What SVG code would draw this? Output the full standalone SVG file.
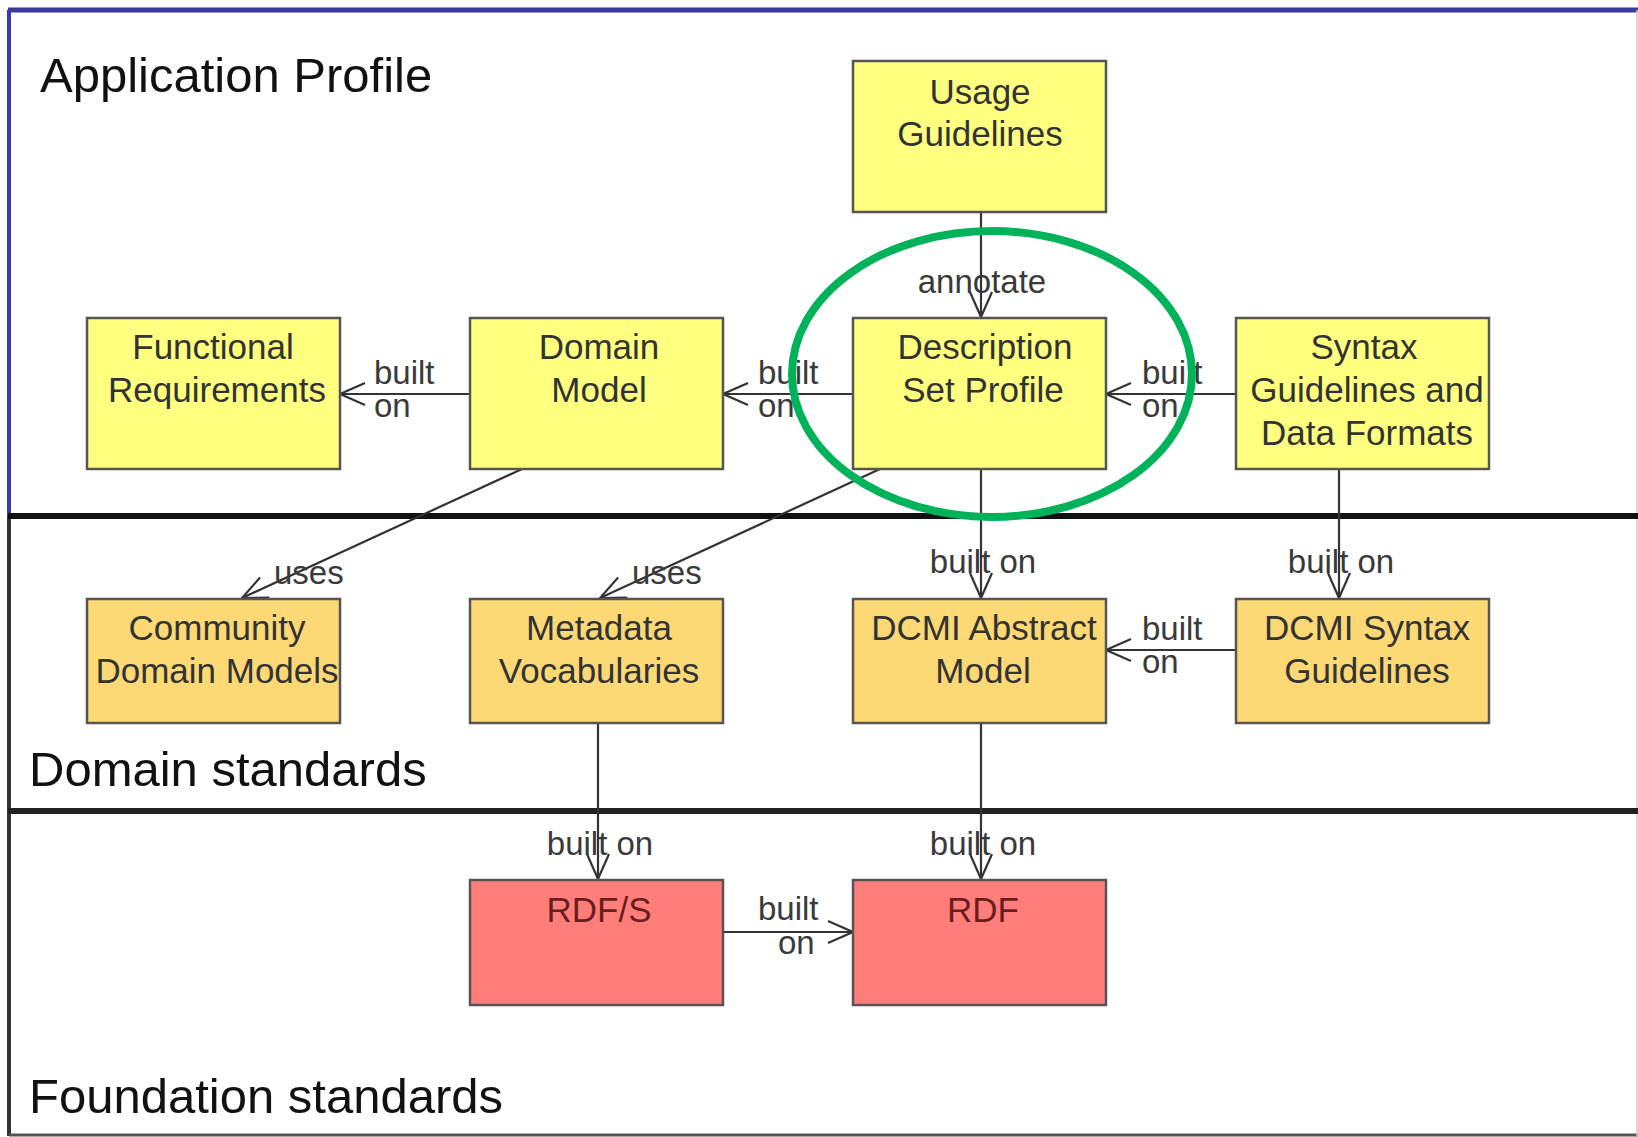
<svg xmlns="http://www.w3.org/2000/svg" width="1638" height="1137" viewBox="0 0 1638 1137">
<style>
.box{stroke:#555;stroke-width:2.5}
.y{fill:#ffff80}
.o{fill:#fdd976}
.r{fill:#ff7e7a}
.t{font-family:"Liberation Sans",Arial,sans-serif;font-size:35px;fill:#333;text-anchor:middle}
.tr{font-family:"Liberation Sans",Arial,sans-serif;font-size:35px;fill:#6a1d1d;text-anchor:middle}
.lbl{font-family:"Liberation Sans",Arial,sans-serif;font-size:33px;fill:#3a3a3a}
.lc{text-anchor:middle}
.sec{font-family:"Liberation Sans",Arial,sans-serif;font-size:49px;fill:#111}
.c{stroke:#333;stroke-width:2.2;fill:none}
</style>
<defs>
<marker id="arr" markerUnits="userSpaceOnUse" markerWidth="40" markerHeight="30" viewBox="-30 -15 34 30" refX="0" refY="0" orient="auto">
<path d="M-25,-11 L0,0 L-25,11" fill="none" stroke="#333" stroke-width="2.2"/>
</marker>
</defs>
<rect width="1638" height="1137" fill="#fff"/>
<g id="frame">
<line x1="8" y1="10" x2="1638" y2="10" stroke="#3a3a9a" stroke-width="5"/>
<line x1="9" y1="10" x2="9" y2="516" stroke="#3a3ab0" stroke-width="4"/>
<line x1="9" y1="516" x2="9" y2="1136" stroke="#333" stroke-width="4"/>
<line x1="9" y1="1135" x2="1638" y2="1135" stroke="#555" stroke-width="3"/>
<line x1="1637" y1="10" x2="1637" y2="1136" stroke="#ccc" stroke-width="1.5"/>
<line x1="8" y1="516" x2="1638" y2="516" stroke="#111" stroke-width="6"/>
<line x1="8" y1="811" x2="1638" y2="811" stroke="#222" stroke-width="6"/>
<text class="sec" x="40" y="92">Application Profile</text>
<text class="sec" x="29" y="786">Domain standards</text>
<text class="sec" x="29" y="1113">Foundation standards</text>
</g>
<g id="connectors">
<line class="c" x1="981" y1="212" x2="981" y2="317" marker-end="url(#arr)"/>
<line class="c" x1="470" y1="394" x2="340" y2="394" marker-end="url(#arr)"/>
<line class="c" x1="853" y1="394" x2="723" y2="394" marker-end="url(#arr)"/>
<line class="c" x1="1236" y1="394" x2="1106" y2="394" marker-end="url(#arr)"/>
<line class="c" x1="522" y1="469" x2="242" y2="598" marker-end="url(#arr)"/>
<line class="c" x1="880" y1="469" x2="600" y2="598" marker-end="url(#arr)"/>
<line class="c" x1="981" y1="469" x2="981" y2="598" marker-end="url(#arr)"/>
<line class="c" x1="1339" y1="469" x2="1339" y2="598" marker-end="url(#arr)"/>
<line class="c" x1="1236" y1="650" x2="1106" y2="650" marker-end="url(#arr)"/>
<line class="c" x1="598" y1="723" x2="598" y2="879" marker-end="url(#arr)"/>
<line class="c" x1="981" y1="723" x2="981" y2="879" marker-end="url(#arr)"/>
<line class="c" x1="723" y1="932" x2="853" y2="932" marker-end="url(#arr)"/>
<text class="lbl lc" x="982" y="293">annotate</text>
<text class="lbl" x="374" y="384">built</text>
<text class="lbl" x="374" y="417">on</text>
<text class="lbl" x="758" y="384">built</text>
<text class="lbl" x="758" y="417">on</text>
<text class="lbl" x="1142" y="384">built</text>
<text class="lbl" x="1142" y="417">on</text>
<text class="lbl" x="1142" y="640">built</text>
<text class="lbl" x="1142" y="673">on</text>
<text class="lbl" x="274" y="584">uses</text>
<text class="lbl" x="632" y="584">uses</text>
<text class="lbl lc" x="983" y="573">built on</text>
<text class="lbl lc" x="1341" y="573">built on</text>
<text class="lbl lc" x="600" y="855">built on</text>
<text class="lbl lc" x="983" y="855">built on</text>
<text class="lbl" x="758" y="920">built</text>
<text class="lbl" x="778" y="954">on</text>
</g>
<g id="usage"><rect class="box y" x="853" y="61" width="253" height="151"/><text class="t" x="980" y="104">Usage</text><text class="t" x="980" y="146">Guidelines</text></g>
<g id="functional"><rect class="box y" x="87" y="318" width="253" height="151"/><text class="t" x="213" y="359">Functional</text><text class="t" x="217" y="402">Requirements</text></g>
<g id="domainmodel"><rect class="box y" x="470" y="318" width="253" height="151"/><text class="t" x="599" y="359">Domain</text><text class="t" x="599" y="402">Model</text></g>
<g id="dsp"><rect class="box y" x="853" y="318" width="253" height="151"/><text class="t" x="985" y="359">Description</text><text class="t" x="983" y="402">Set Profile</text></g>
<g id="syntax"><rect class="box y" x="1236" y="318" width="253" height="151"/><text class="t" x="1364" y="359">Syntax</text><text class="t" x="1367" y="402">Guidelines and</text><text class="t" x="1367" y="445">Data Formats</text></g>
<g id="community"><rect class="box o" x="87" y="599" width="253" height="124"/><text class="t" x="217" y="640">Community</text><text class="t" x="217" y="683">Domain Models</text></g>
<g id="metadata"><rect class="box o" x="470" y="599" width="253" height="124"/><text class="t" x="599" y="640">Metadata</text><text class="t" x="599" y="683">Vocabularies</text></g>
<g id="dcmiabstract"><rect class="box o" x="853" y="599" width="253" height="124"/><text class="t" x="984" y="640">DCMI Abstract</text><text class="t" x="983" y="683">Model</text></g>
<g id="dcmisyntax"><rect class="box o" x="1236" y="599" width="253" height="124"/><text class="t" x="1367" y="640">DCMI Syntax</text><text class="t" x="1367" y="683">Guidelines</text></g>
<g id="rdfs"><rect class="box r" x="470" y="880" width="253" height="125"/><text class="tr" x="599" y="922">RDF/S</text></g>
<g id="rdf"><rect class="box r" x="853" y="880" width="253" height="125"/><text class="tr" x="983" y="922">RDF</text></g>
<ellipse id="highlight" cx="992" cy="374" rx="200" ry="143" fill="none" stroke="#00b35a" stroke-width="8"/>
</svg>
